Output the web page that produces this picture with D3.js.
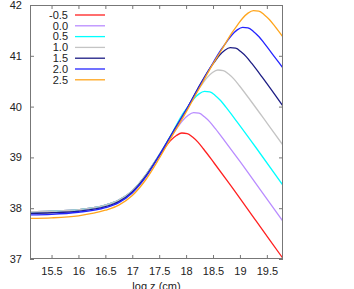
<!DOCTYPE html>
<html><head><meta charset="utf-8">
<script src="https://cdn.jsdelivr.net/npm/d3@7"></script>
<style>body{margin:0;background:#fff}svg{display:block}text{font-family:"Liberation Sans",Arial,sans-serif;font-size:11px;fill:#222}</style>
</head><body><svg id="c" width="354" height="289"></svg>
<script>
const xTicks = [15.5,16,16.5,17,17.5,18,18.5,19,19.5];
const yTicks = [37,38,39,40,41,42];
const labels = ["-0.5","0.0","0.5","1.0","1.5","2.0","2.5"];
const colors = ["#ff2020","#b98cff","#00ffff","#c4c4c4","#1c1c84","#2424ff","#ffa51c"];

const sM05 = [[15.1,37.93],[15.5,37.94],[16.0,37.97],[16.5,38.06],[16.75,38.16],[17.0,38.34],[17.25,38.65],[17.32,38.76],[17.52,39.06],[17.62,39.21],[17.72,39.34],[17.82,39.43],[17.92,39.48],[18.02,39.47],[18.12,39.40],[18.22,39.30],[18.32,39.17],[18.52,38.89],[18.8,38.49],[19.3,37.75],[19.8,37.01]];
const s00 = [[15.1,37.93],[15.5,37.94],[16.0,37.97],[16.5,38.06],[16.75,38.16],[17.0,38.34],[17.25,38.65],[17.5,39.05],[17.74,39.45],[17.84,39.59],[17.94,39.73],[18.04,39.83],[18.14,39.88],[18.24,39.87],[18.34,39.80],[18.44,39.70],[18.54,39.57],[18.74,39.29],[19.0,38.92],[19.4,38.33],[19.8,37.74]];
const s05 = [[15.1,37.93],[15.5,37.94],[16.0,37.97],[16.5,38.06],[16.75,38.16],[17.0,38.34],[17.25,38.65],[17.5,39.05],[17.75,39.50],[17.94,39.86],[18.04,40.01],[18.14,40.15],[18.24,40.25],[18.34,40.30],[18.44,40.29],[18.54,40.22],[18.64,40.12],[18.74,39.99],[18.94,39.71],[19.3,39.19],[19.8,38.45]];
const s10 = [[15.1,37.93],[15.5,37.94],[16.0,37.97],[16.5,38.06],[16.75,38.16],[17.0,38.34],[17.25,38.65],[17.5,39.05],[17.75,39.49],[18.0,39.93],[18.19,40.28],[18.29,40.43],[18.39,40.57],[18.49,40.67],[18.59,40.72],[18.69,40.71],[18.79,40.64],[18.89,40.54],[18.99,40.41],[19.19,40.13],[19.5,39.68],[19.8,39.24]];
const s15 = [[15.1,37.90],[15.5,37.91],[16.0,37.94],[16.5,38.03],[16.75,38.13],[17.0,38.32],[17.25,38.63],[17.5,39.04],[17.75,39.49],[18.0,39.93],[18.22,40.36],[18.42,40.72],[18.52,40.87],[18.62,41.01],[18.72,41.11],[18.82,41.16],[18.92,41.15],[19.02,41.08],[19.12,40.98],[19.22,40.85],[19.42,40.57],[19.8,40.01]];
const s20 = [[15.1,37.87],[15.5,37.88],[16.0,37.92],[16.5,38.01],[16.75,38.11],[17.0,38.30],[17.25,38.61],[17.5,39.03],[17.75,39.48],[18.0,39.93],[18.25,40.40],[18.45,40.77],[18.65,41.12],[18.75,41.27],[18.85,41.41],[18.95,41.51],[19.05,41.56],[19.15,41.55],[19.25,41.48],[19.35,41.38],[19.45,41.25],[19.65,40.97],[19.8,40.76]];
const s25 = [[15.1,37.80],[15.5,37.81],[16.0,37.85],[16.5,37.96],[16.75,38.06],[17.0,38.25],[17.25,38.56],[17.5,38.98],[17.75,39.44],[18.0,39.89],[18.25,40.37],[18.5,40.84],[18.65,41.10],[18.85,41.45],[18.95,41.60],[19.05,41.74],[19.15,41.84],[19.25,41.89],[19.35,41.88],[19.45,41.81],[19.55,41.71],[19.65,41.58],[19.8,41.37]];
const series = [sM05,s00,s05,s10,s15,s20,s25];

const svg = d3.select("#c");
const L = 30, R = 283, T = 5, B = 259;
const x = d3.scaleLinear().domain([15.1,19.8]).range([L,R]);
const y = d3.scaleLinear().domain([37,42]).range([B,T]);

const plot = svg.append("g");
plot.append("clipPath").attr("id","clip").append("rect").attr("x",L).attr("y",T).attr("width",R-L).attr("height",B-T);

const line = d3.line().x(d=>x(d[0])).y(d=>y(d[1])).curve(d3.curveMonotoneX);
const lg = plot.append("g").attr("clip-path","url(#clip)");
series.forEach((s,i)=>{
  lg.append("path").attr("d",line(s)).attr("fill","none").attr("stroke",colors[i]).attr("stroke-width",1.3);
});

const tk = 4;
const axB = svg.append("g").attr("transform",`translate(0,${B})`).call(d3.axisBottom(x).tickValues(xTicks).tickSize(-tk).tickPadding(8).tickFormat(d3.format("")));
const axT = svg.append("g").attr("transform",`translate(0,${T})`).call(d3.axisTop(x).tickValues(xTicks).tickSize(-tk).tickFormat(""));
const axL = svg.append("g").attr("transform",`translate(${L},0)`).call(d3.axisLeft(y).tickValues(yTicks).tickSize(-tk).tickPadding(8).tickFormat(d3.format("d")));
const axR = svg.append("g").attr("transform",`translate(${R},0)`).call(d3.axisRight(y).tickValues(yTicks).tickSize(-tk).tickFormat(""));
[axB,axT,axL,axR].forEach(a=>{
  a.select(".domain").remove();
  a.selectAll("line").attr("stroke","#777");
  a.selectAll("text").style("font-size","11px").attr("fill","#222");
});
svg.append("rect").attr("x",L+0.5).attr("y",T+0.5).attr("width",R-L-1).attr("height",B-T-1).attr("fill","none").attr("stroke","#777").attr("stroke-width",1);

const leg = svg.append("g");
labels.forEach((lab,i)=>{
  const cy = 15 + i*10.8;
  leg.append("text").attr("x",68).attr("y",cy).attr("dy","0.35em").attr("text-anchor","end").text(lab);
  leg.append("line").attr("x1",75).attr("x2",105).attr("y1",cy).attr("y2",cy).attr("stroke",colors[i]).attr("stroke-width",1.3);
});

svg.append("text").attr("x",(L+R)/2).attr("y",290).attr("text-anchor","middle").text("log z (cm)");
</script></body></html>
